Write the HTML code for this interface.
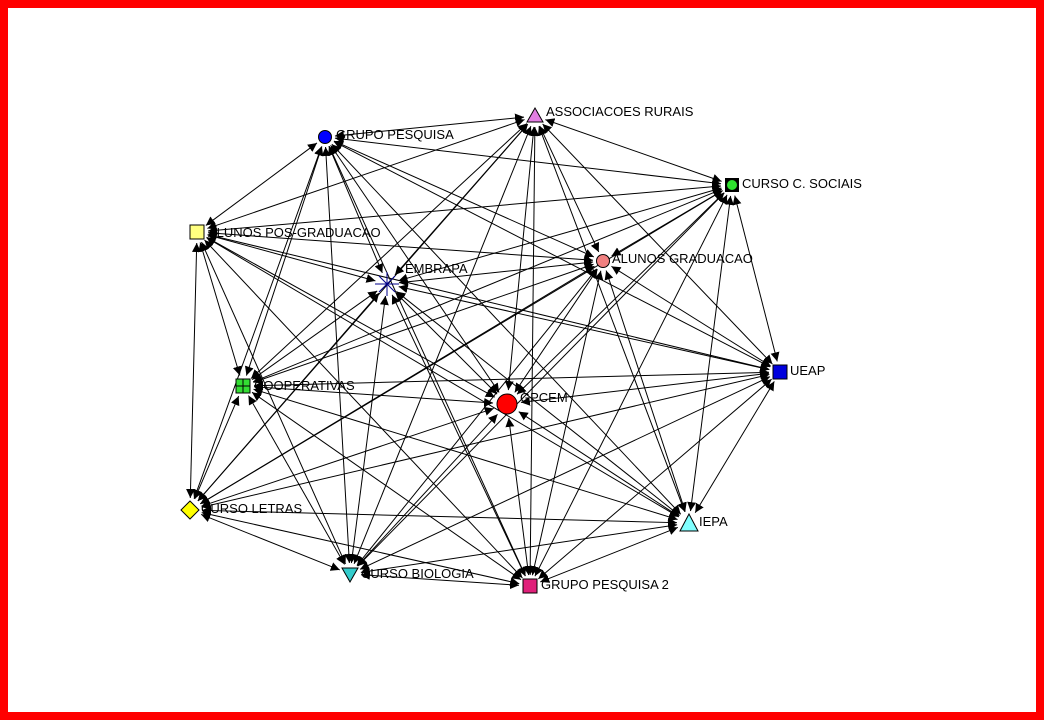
<!DOCTYPE html>
<html><head><meta charset="utf-8"><style>
html,body{margin:0;padding:0;background:#fff;}
#wrap{position:relative;width:1044px;height:720px;overflow:hidden;}
#frame{position:absolute;left:0;top:0;width:1028px;height:704px;border:8px solid #f00;}
svg{position:absolute;left:0;top:0;}
text{font-family:"Liberation Sans",sans-serif;font-size:13px;fill:#000;}
</style></head><body><div id="wrap"><div id="frame"></div>
<svg id="g" width="1044" height="720" xmlns="http://www.w3.org/2000/svg">
<defs><marker id="a" viewBox="0 0 10 10" refX="10" refY="5" markerWidth="9" markerHeight="9" markerUnits="userSpaceOnUse" orient="auto"><path d="M0,0L10,5L0,10z" fill="#000"/></marker></defs>
<g id="edges" stroke="#000" stroke-width="1"></g>
<g id="nodes">
<polygon points="535,108 543,122 527,122" fill="#e27ee2" stroke="#000"/>
<circle cx="325" cy="137" r="6.5" fill="#0000ff" stroke="#000"/>
<rect x="725" y="178" width="14" height="14" fill="#000"/><circle cx="732" cy="185" r="5.5" fill="#2ee02e" stroke="#000"/>
<rect x="190" y="225" width="14" height="14" fill="#ffff80" stroke="#000"/>
<g stroke="#00008b" stroke-width="1"><line x1="375" y1="284" x2="399" y2="284"/><line x1="387" y1="272" x2="387" y2="296"/><line x1="379" y1="276" x2="395" y2="292"/><line x1="379" y1="292" x2="395" y2="276"/></g>
<circle cx="603" cy="261" r="6.5" fill="#f08080" stroke="#000"/>
<rect x="773" y="365" width="14" height="14" fill="#0000dd" stroke="#000"/>
<rect x="236" y="379" width="14" height="14" fill="#33dd33" stroke="#000"/><path d="M243,379V393M236,386H250" stroke="#000"/>
<circle cx="507" cy="404" r="10" fill="#f00" stroke="#000"/>
<polygon points="190,501 199,510 190,519 181,510" fill="#ffff00" stroke="#000"/>
<polygon points="689,514 698,531 680,531" fill="#80ffff" stroke="#000"/>
<polygon points="342,568 358,568 350,582" fill="#33cccc" stroke="#000"/>
<rect x="523" y="579" width="14" height="14" fill="#e0207a" stroke="#000"/>
</g>
<g>
<text x="336" y="139">GRUPO PESQUISA</text>
<text x="546" y="116">ASSOCIACOES RURAIS</text>
<text x="742" y="188">CURSO C. SOCIAIS</text>
<text x="208" y="237">ALUNOS POS-GRADUACAO</text>
<text x="405" y="273">EMBRAPA</text>
<text x="612" y="263">ALUNOS GRADUACAO</text>
<text x="790" y="375">UEAP</text>
<text x="254" y="390">COOPERATIVAS</text>
<text x="520" y="402">GPCEM</text>
<text x="201" y="513">CURSO LETRAS</text>
<text x="699" y="526">IEPA</text>
<text x="361" y="578">CURSO BIOLOGIA</text>
<text x="541" y="589">GRUPO PESQUISA 2</text>
</g>
</svg></div>
<script>
var N=[[535,116],[325,137],[732,185],[197,232],[387,284],[603,261],[780,372],[243,386],[507,404],[190,510],[689,523],[350,574],[530,586]];
var R=[11,10,11,11,12,10,11,11,14,12,12,11,11];
var g=document.getElementById('edges'),s='';
for(var i=0;i<N.length;i++)for(var j=0;j<N.length;j++){if(i==j)continue;
var a=N[i],b=N[j],dx=b[0]-a[0],dy=b[1]-a[1],d=Math.sqrt(dx*dx+dy*dy);
var x1=a[0]+dx/d*R[i],y1=a[1]+dy/d*R[i],x2=b[0]-dx/d*R[j],y2=b[1]-dy/d*R[j];
if(i<j)s+='<line x1="'+x1+'" y1="'+y1+'" x2="'+x2+'" y2="'+y2+'" marker-end="url(#a)"/>';
else s+='<line x1="'+x1+'" y1="'+y1+'" x2="'+x2+'" y2="'+y2+'" stroke-width="0" marker-end="url(#a)"/>';}
g.innerHTML=s;
</script>
</body></html>
